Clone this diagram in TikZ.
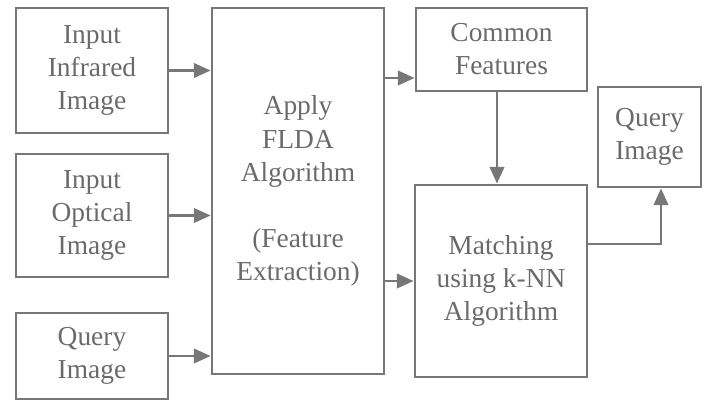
\documentclass[tikz,border=0pt]{standalone}
\usepackage{fontspec}
\setmainfont{Liberation Serif}
\usetikzlibrary{arrows.meta}
\definecolor{boxgray}{HTML}{777777}
\definecolor{txtgray}{HTML}{6A6A6A}

\begin{document}
\begin{tikzpicture}[x=0.025cm, y=-0.025cm,
    blk/.style={draw=boxgray, line width=1.9pt, align=center, text=txtgray,
        font=\fontsize{19.5}{23.5}\selectfont, inner sep=0pt},
    arr/.style={draw=boxgray, line width=1.9pt,
        -{Triangle[length=0.42cm, width=0.36cm]}}]
    \useasboundingbox (0,0) rectangle (709,402);
    % input side
    \node[blk, minimum width=3.8cm, minimum height=3.125cm] (inf) at (92,70.5) {Input\\Infrared\\Image};
    \node[blk, minimum width=3.8cm, minimum height=3.075cm] (opt) at (92,215.5) {Input\\Optical\\Image};
    \node[blk, minimum width=3.8cm, minimum height=2.15cm] (qry) at (92,356) {Query\\Image};
    % feature extraction
    \node[blk, minimum width=4.3cm, minimum height=9.15cm] (flda) at (298,191)
        {Apply\\FLDA\\Algorithm\\[23.5pt](Feature\\Extraction)};
    \node[blk, minimum width=4.275cm, minimum height=2.075cm] (com) at (501.5,49.5) {Common\\Features};
    \node[blk, minimum width=4.3cm, minimum height=4.8cm] (match) at (501,281) {Matching\\using k-NN\\Algorithm};
    \node[blk, minimum width=2.575cm, minimum height=2.5cm] (out) at (649.5,137) {Query\\Image};
    \coordinate (c1) at (0,78);
    \coordinate (c2) at (661,244);
    % connectors
    \draw[arr] (inf.east) -- (inf.east -| flda.west);
    \draw[arr] (opt.east) -- (opt.east -| flda.west);
    \draw[arr] (qry.east) -- (qry.east -| flda.west);
    \draw[arr] (flda.east |- c1) -- (com.west |- c1);
    \draw[arr] (flda.east |- match.west) -- (match.west);
    \draw[arr] (com.south -| 497,0) -- (match.north -| 497,0);
    \draw[arr] (match.east |- c2) -- (c2) -- (out.south -| c2);
\end{tikzpicture}
\end{document}
